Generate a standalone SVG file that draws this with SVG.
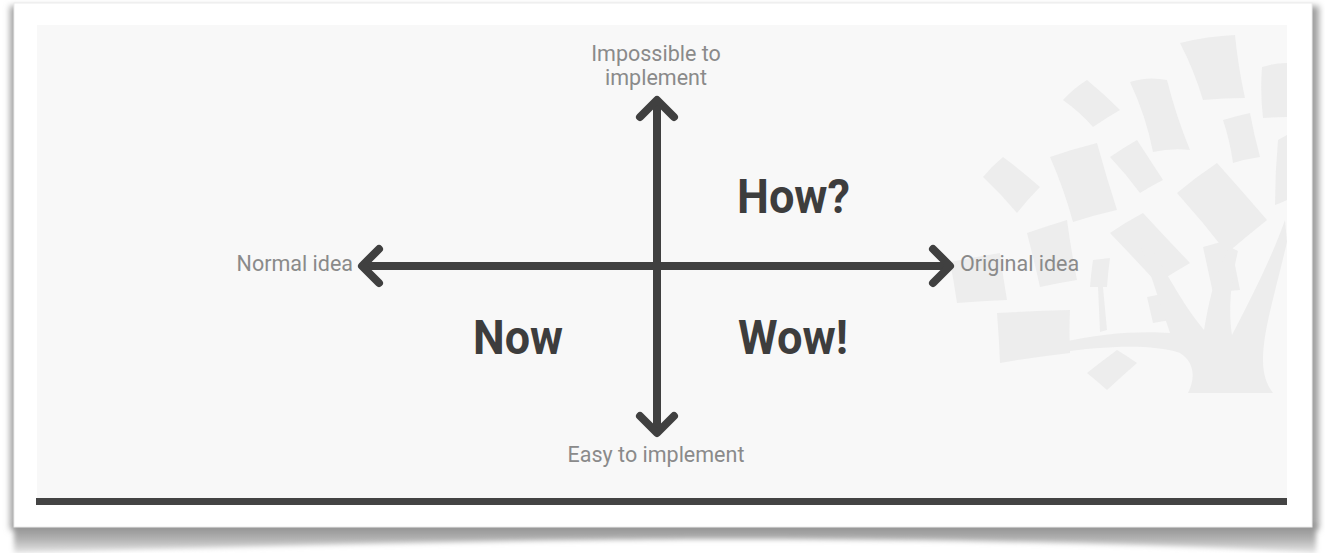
<svg xmlns="http://www.w3.org/2000/svg" width="1325" height="553" viewBox="0 0 1325 553">
  <defs>
    <style>
      .lbl { font-family: Roboto, "Liberation Sans", sans-serif; font-size: 21.5px; fill: #8a8a8a; }
      .big { font-family: Roboto, "Liberation Sans", sans-serif; font-size: 49px; font-weight: 700; fill: #3d3d3d; }
      .axis { stroke: #404040; stroke-width: 8; fill: none; }
      .leaf { fill: #ededed; }
    </style>
    <filter id="blur" x="-5%" y="-10%" width="110%" height="130%">
      <feGaussianBlur stdDeviation="3"/>
    </filter>
    <filter id="blur2" x="-5%" y="-50%" width="110%" height="200%">
      <feGaussianBlur stdDeviation="2.5"/>
    </filter>
    <linearGradient id="bottomShade" x1="0" y1="0" x2="0" y2="1">
      <stop offset="0" stop-color="#8c8c8c"/>
      <stop offset="0.5" stop-color="#b0b0b0"/>
      <stop offset="1" stop-color="#e6e6e6"/>
    </linearGradient>
    <marker id="chev" viewBox="-24 -24 28 48" refX="-4" refY="0" markerWidth="28" markerHeight="48" markerUnits="userSpaceOnUse" orient="auto-start-reverse" overflow="visible">
      <path d="M-17,-17 L0,0 L-17,17" fill="none" stroke="#404040" stroke-width="8" stroke-linecap="round" stroke-linejoin="round"/>
    </marker>
  </defs>

  <rect width="1325" height="553" fill="#ffffff"/>

  <!-- card shadow -->
  <g id="shadow">
    <rect x="10" y="6" width="1309" height="524" fill="#a0a0a0" filter="url(#blur)"/>
    <path d="M14,524 L1316,524 L1316,553 C1100,540 800,538 600,540 C400,542 200,548 14,553 Z" fill="url(#bottomShade)" filter="url(#blur2)"/>
  </g>

  <!-- card -->
  <rect x="14" y="3" width="1298" height="524" fill="#ffffff" stroke="#ececec" stroke-width="1"/>
  <rect x="37" y="25" width="1250" height="475" fill="#f8f8f8"/>

  <!-- background tree -->
  <g id="tree">
    <path class="leaf" d="M1180,43 Q1208,36 1235,35 Q1238,66 1245,98 Q1224,98 1203,100 Q1194,70 1180,43 Z"/>
    <path class="leaf" d="M1262,67 Q1274,63 1287,63 L1287,117 Q1275,117 1263,118 Q1260,92 1262,67 Z"/>
    <path class="leaf" d="M1130,82 Q1148,76 1167,80 Q1176,116 1190,150 Q1171,148 1153,152 Q1146,116 1130,82 Z"/>
    <path class="leaf" d="M1063,100 Q1074,88 1087,80 Q1104,94 1120,110 Q1106,118 1093,127 Q1080,112 1063,100 Z"/>
    <path class="leaf" d="M1223,120 Q1236,116 1250,113 Q1254,135 1260,157 Q1246,159 1233,163 Q1230,141 1223,120 Z"/>
    <path class="leaf" d="M1110,157 Q1123,148 1137,140 Q1150,160 1163,180 Q1151,186 1140,193 Q1126,174 1110,157 Z"/>
    <path class="leaf" d="M1050,157 Q1073,149 1097,143 Q1106,176 1117,210 Q1095,215 1073,222 Q1064,189 1050,157 Z"/>
    <path class="leaf" d="M983,177 Q992,166 1003,157 Q1022,171 1040,187 Q1028,199 1017,213 Q1001,194 983,177 Z"/>
    <path class="leaf" d="M1177,193 Q1196,177 1217,163 Q1242,191 1267,220 Q1247,236 1227,253 Q1203,222 1177,193 Z"/>
    <path class="leaf" d="M1278,140 Q1283,137 1287,135 L1287,200 Q1281,203 1275,205 Q1275,172 1278,140 Z"/>
    <path class="leaf" d="M1110,233 Q1126,222 1143,213 Q1166,238 1190,263 Q1173,273 1157,283 Q1134,258 1110,233 Z"/>
    <path class="leaf" d="M1027,233 Q1047,226 1067,220 Q1071,250 1077,280 Q1058,283 1040,287 Q1034,260 1027,233 Z"/>
    <path class="leaf" d="M950,262 Q975,257 1000,253 Q1003,277 1007,300 Q982,301 957,303 Q954,282 950,262 Z"/>
    <path class="leaf" d="M1203,247 Q1216,243 1230,240 Q1235,265 1240,290 Q1226,291 1213,293 Q1208,270 1203,247 Z"/>
    <path class="leaf" d="M1093,260 Q1101,259 1110,258 Q1108,272 1107,287 Q1098,287 1090,287 Q1091,273 1093,260 Z"/>
    <path class="leaf" d="M1147,297 Q1157,295 1167,293 Q1170,307 1173,320 Q1163,321 1153,323 Q1150,310 1147,297 Z"/>
    <path class="leaf" d="M997,313 Q1033,311 1070,310 Q1069,331 1070,353 Q1035,357 1000,363 Q999,338 997,313 Z"/>
    <path class="leaf" d="M1087,373 Q1102,361 1117,350 Q1127,356 1137,363 Q1122,376 1107,390 Q1097,381 1087,373 Z"/>
    <path class="leaf" d="M1188,393 C1196,377 1194,362 1180,353 C1150,343 1100,347 1062,352 L1060,343 C1100,333 1140,331 1170,333 C1160,303 1150,272 1141,247 L1149,243 C1168,276 1184,306 1204,330 C1209,301 1215,272 1230,247 L1238,251 C1231,280 1228,310 1232,335 C1250,300 1270,262 1285,220 L1287,242 C1276,290 1263,330 1263,360 C1263,375 1267,385 1273,393 Z"/>
    <path class="leaf" d="M1098,287 L1103,287 L1107,330 L1100,332 Z"/>
  </g>

  <!-- bottom bar -->
  <rect x="36" y="498" width="1251" height="7" fill="#444444"/>

  <!-- connectors -->
  <g id="connectors">
    <line class="axis" x1="657" y1="104" x2="657" y2="429" marker-start="url(#chev)" marker-end="url(#chev)"/>
    <line class="axis" x1="366" y1="266" x2="946" y2="266" marker-start="url(#chev)" marker-end="url(#chev)"/>
  </g>

  <!-- axis labels -->
  <g id="label-top">
    <text class="lbl" x="656" y="61" text-anchor="middle">Impossible to</text>
    <text class="lbl" x="656" y="85" text-anchor="middle">implement</text>
  </g>
  <g id="label-bottom">
    <text class="lbl" x="656" y="462" text-anchor="middle">Easy to implement</text>
  </g>
  <g id="label-left">
    <text class="lbl" x="353" y="271" text-anchor="end">Normal idea</text>
  </g>
  <g id="label-right">
    <text class="lbl" x="960" y="271">Original idea</text>
  </g>

  <!-- quadrant labels -->
  <g id="quad-how">
    <text class="big" x="737" y="213" textLength="113" lengthAdjust="spacingAndGlyphs">How?</text>
  </g>
  <g id="quad-now">
    <text class="big" x="473" y="354" textLength="90" lengthAdjust="spacingAndGlyphs">Now</text>
  </g>
  <g id="quad-wow">
    <text class="big" x="738" y="354" textLength="110" lengthAdjust="spacingAndGlyphs">Wow!</text>
  </g>
</svg>
